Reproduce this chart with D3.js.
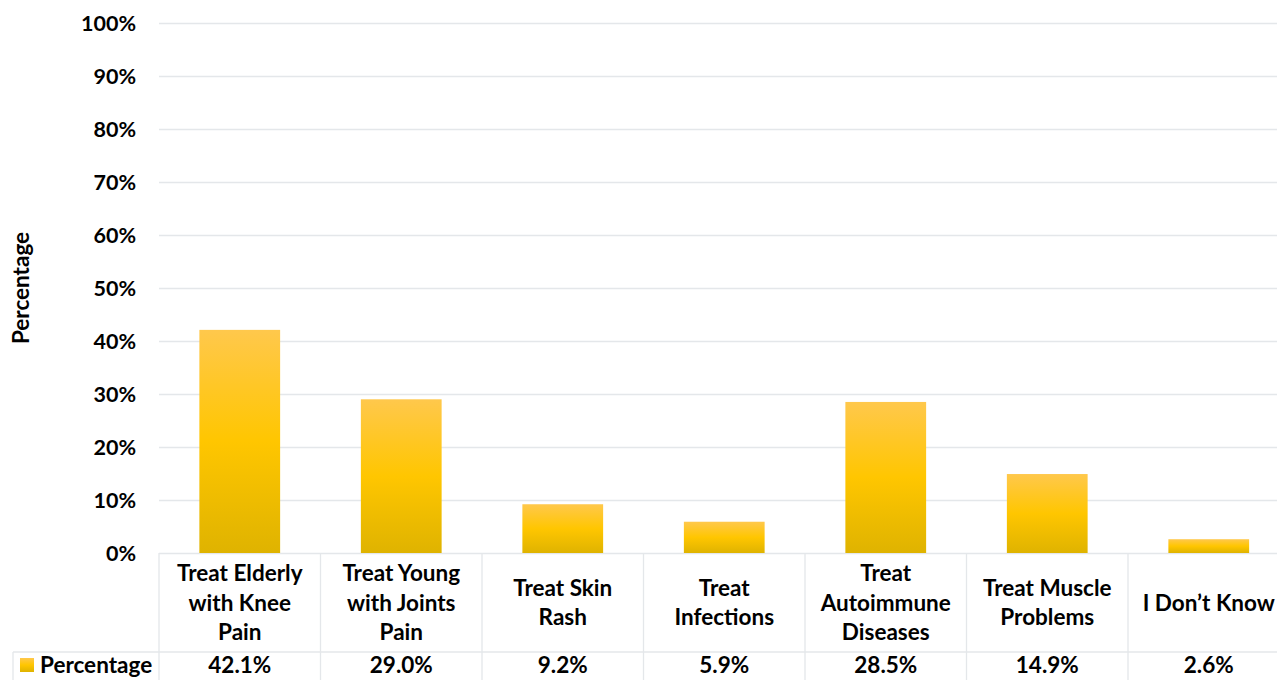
<!DOCTYPE html>
<html>
<head>
<meta charset="utf-8">
<script src="https://cdn.jsdelivr.net/npm/d3@7"></script>
<style>
  body { margin: 0; background: #fff; }
  svg text { font-family: Lato, "Open Sans", sans-serif; font-weight: bold; fill: #000; }
</style>
</head>
<body>
<div id="chart"></div>
<script>
// chart data
var categories = [
    ["Treat Elderly", "with Knee", "Pain"],
    ["Treat Young", "with Joints", "Pain"],
    ["Treat Skin", "Rash"],
    ["Treat", "Infections"],
    ["Treat", "Autoimmune", "Diseases"],
    ["Treat Muscle", "Problems"],
    ["I Don\u2019t Know"]
];
var values = [42.1, 29.0, 9.2, 5.9, 28.5, 14.9, 2.6];
var valueLabels = ["42.1%", "29.0%", "9.2%", "5.9%", "28.5%", "14.9%", "2.6%"];
var yTicks = [0, 10, 20, 30, 40, 50, 60, 70, 80, 90, 100];
var seriesName = "Percentage";
var axisTitle = "Percentage";

var width = 1277, height = 680;
var margin = {top: 23, left: 159};
var plotBottom = 553;
var bandW = 161.5;
var gridColor = "#e4e7ea";

var svg = d3.select("#chart").append("svg")
    .attr("width", width)
    .attr("height", height);

//gradient for the bars
var grad = svg.append("defs").append("linearGradient")
    .attr("id", "barGrad")
    .attr("x1", 0).attr("y1", 0).attr("x2", 0).attr("y2", 1);
grad.append("stop").attr("offset", "0%").attr("stop-color", "#ffc84c");
grad.append("stop").attr("offset", "50%").attr("stop-color", "#ffc600");
grad.append("stop").attr("offset", "100%").attr("stop-color", "#dfb300");

var x = d3.scaleBand()
    .domain(d3.range(categories.length))
    .range([margin.left, margin.left + bandW * categories.length])
    .paddingInner(0)
    .paddingOuter(0);

var y = d3.scaleLinear()
    .domain([0, 100])
    .range([plotBottom, margin.top]);

// gridlines + tick labels
var yAxis = d3.axisLeft(y)
    .tickValues(yTicks)
    .tickFormat(function(d){ return d + "%"; })
    .tickSize(-(width - margin.left))
    .tickPadding(23);

var gy = svg.append("g")
    .attr("transform", "translate(" + margin.left + ",0)")
    .call(yAxis);
gy.select(".domain").remove();
gy.selectAll(".tick line").attr("stroke", gridColor).attr("stroke-width", 1.3);
gy.selectAll(".tick text")
    .style("font-size", "21.5px")
    .attr("dy", "0.36em");

svg.append("text")
    .attr("transform", "translate(29," + (margin.top + plotBottom) / 2 + ") rotate(-90)")
    .attr("text-anchor", "middle")
    .style("font-size", "22.5px")
    .text(axisTitle);

// bars
svg.selectAll("rect.bar")
    .data(values)
    .enter()
    .append("rect")
    .attr("class", "bar")
    .attr("x", function(d, i){ return x(i) + x.bandwidth() / 4; })
    .attr("width", x.bandwidth() / 2)
    .attr("y", function(d){ return y(d); })
    .attr("height", function(d){ return plotBottom - y(d); })
    .attr("fill", "url(#barGrad)");

// data table
var tableRowY = 652;
var tableLeft = 13;
var right = x.range()[1];

svg.append("line")
    .attr("x1", tableLeft).attr("x2", right)
    .attr("y1", tableRowY).attr("y2", tableRowY)
    .attr("stroke", gridColor).attr("stroke-width", 1.3);

svg.selectAll("line.colsep")
    .data(d3.range(categories.length + 1))
    .enter()
    .append("line")
    .attr("class", "colsep")
    .attr("x1", function(i){ return margin.left + i * bandW; })
    .attr("x2", function(i){ return margin.left + i * bandW; })
    .attr("y1", plotBottom)
    .attr("y2", height)
    .attr("stroke", gridColor).attr("stroke-width", 1.3);

svg.append("line")
    .attr("x1", tableLeft).attr("x2", tableLeft)
    .attr("y1", tableRowY).attr("y2", height)
    .attr("stroke", gridColor).attr("stroke-width", 1.3);

var lineH = 29.5;
var labelMid = (plotBottom + tableRowY) / 2;
categories.forEach(function(lines, i){
    var t = svg.append("text")
        .attr("text-anchor", "middle")
        .style("font-size", "22.5px");
    var start = labelMid - (lines.length - 1) * lineH / 2;
    lines.forEach(function(l, k){
        t.append("tspan")
            .attr("x", x(i) + x.bandwidth() / 2)
            .attr("y", start + k * lineH)
            .attr("dy", "0.36em")
            .text(l);
    });
});

// value row, kept just inside the bottom edge
var valueY = 665;
svg.selectAll("text.val")
    .data(valueLabels)
    .enter()
    .append("text")
    .attr("class", "val")
    .attr("x", function(d, i){ return x(i) + x.bandwidth() / 2; })
    .attr("y", valueY)
    .attr("dy", "0.36em")
    .attr("text-anchor", "middle")
    .style("font-size", "22.5px")
    .text(function(d){ return d; });

// legend key inside table
svg.append("rect")
    .attr("x", 20).attr("y", valueY - 7)
    .attr("width", 14).attr("height", 14)
    .attr("fill", "url(#barGrad)");
svg.append("text")
    .attr("x", 40).attr("y", valueY)
    .attr("dy", "0.36em")
    .style("font-size", "22.5px")
    .text(seriesName);
</script>
</body>
</html>
